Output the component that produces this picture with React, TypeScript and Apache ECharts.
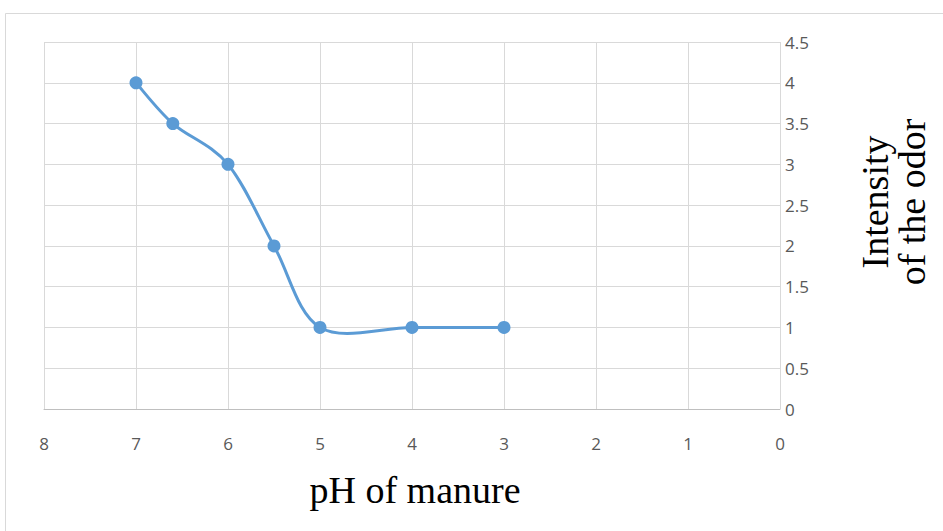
import React, { useEffect, useRef } from "react";
import * as echarts from "echarts";

const phValues: number[] = [7, 6.6, 6, 5.5, 5, 4, 3];
const odorIntensity: number[] = [4, 3.5, 3, 2, 1, 1, 1];
const xAxisTitle = "pH of manure";
const yAxisTitle = "Intensity\nof the odor";

const LINE_COLOR = "#5b9bd5";
const LABEL_FONT = "'Liberation Sans Narrow', 'Open Sans', sans-serif";

export default function App() {
  const ref = useRef<HTMLDivElement>(null);
  useEffect(() => {
    if (!ref.current) return;
    const chart = echarts.init(ref.current, null, { renderer: "svg" });
    const data = phValues.map((x, i) => [x, odorIntensity[i]]);
    const n = data.length;

    const renderSegment = (params: any, api: any) => {
      const i = params.dataIndexInside;
      if (i >= n - 1) return null;
      const pt = (k: number) => {
        const kk = Math.max(0, Math.min(n - 1, k));
        return api.coord([api.value(0, kk), api.value(1, kk)]);
      };
      const p0 = pt(i - 1);
      const p1 = pt(i);
      const p2 = pt(i + 1);
      const p3 = pt(i + 2);
      const t = 1 / 6;
      return {
        type: "bezierCurve",
        shape: {
          x1: p1[0],
          y1: p1[1],
          cpx1: p1[0] + (p2[0] - p0[0]) * t,
          cpy1: p1[1] + (p2[1] - p0[1]) * t,
          cpx2: p2[0] - (p3[0] - p1[0]) * t,
          cpy2: p2[1] - (p3[1] - p1[1]) * t,
          x2: p2[0],
          y2: p2[1],
        },
        style: { fill: "none", stroke: LINE_COLOR, lineWidth: 3, lineCap: "round" },
      };
    };

    chart.setOption({
      animation: false,
      backgroundColor: "#ffffff",
      grid: { left: 44, right: 163, top: 42, bottom: 122, containLabel: false },
      graphic: [
        {
          type: "rect",
          silent: true,
          shape: { x: 5.5, y: 13.5, width: 960, height: 540 },
          style: { fill: "none", stroke: "#d9d9d9", lineWidth: 1 },
        },
        {
          type: "text",
          silent: true,
          x: 893,
          y: 202,
          rotation: Math.PI / 2,
          style: {
            text: yAxisTitle,
            font: "38px 'Liberation Serif'",
            fill: "#000000",
            align: "center",
            verticalAlign: "middle",
            lineHeight: 37,
          },
        },
      ],
      xAxis: {
        type: "value",
        min: 0,
        max: 8,
        interval: 1,
        inverse: true,
        name: xAxisTitle,
        nameLocation: "middle",
        nameGap: 62,
        nameTextStyle: { fontFamily: "Liberation Serif", fontSize: 38, color: "#000000", padding: [0, 0, 0, 6] },
        axisLine: { show: true, lineStyle: { color: "#bfbfbf", width: 1 } },
        axisTick: { show: false },
        axisLabel: { margin: 26, fontFamily: LABEL_FONT, fontSize: 17, color: "#595959" },
        splitLine: { show: true, lineStyle: { color: "#d9d9d9", width: 1 } },
      },
      yAxis: {
        type: "value",
        position: "right",
        min: 0,
        max: 4.5,
        interval: 0.5,
        axisLine: { show: false },
        axisTick: { show: false },
        axisLabel: { margin: 5, fontFamily: LABEL_FONT, fontSize: 17, color: "#595959" },
        splitLine: { show: true, lineStyle: { color: "#d9d9d9", width: 1 } },
      },
      series: [
        {
          type: "custom",
          name: "curve",
          data,
          renderItem: renderSegment,
          z: 2,
          silent: true,
        },
        {
          type: "scatter",
          name: "points",
          data,
          symbol: "circle",
          symbolSize: 13,
          itemStyle: { color: LINE_COLOR, opacity: 1 },
          z: 3,
        },
      ],
    });
    return () => chart.dispose();
  }, []);
  return (
    <div
      ref={ref}
      style={{ position: "fixed", left: 0, top: 0, width: 943, height: 531 }}
    />
  );
}
